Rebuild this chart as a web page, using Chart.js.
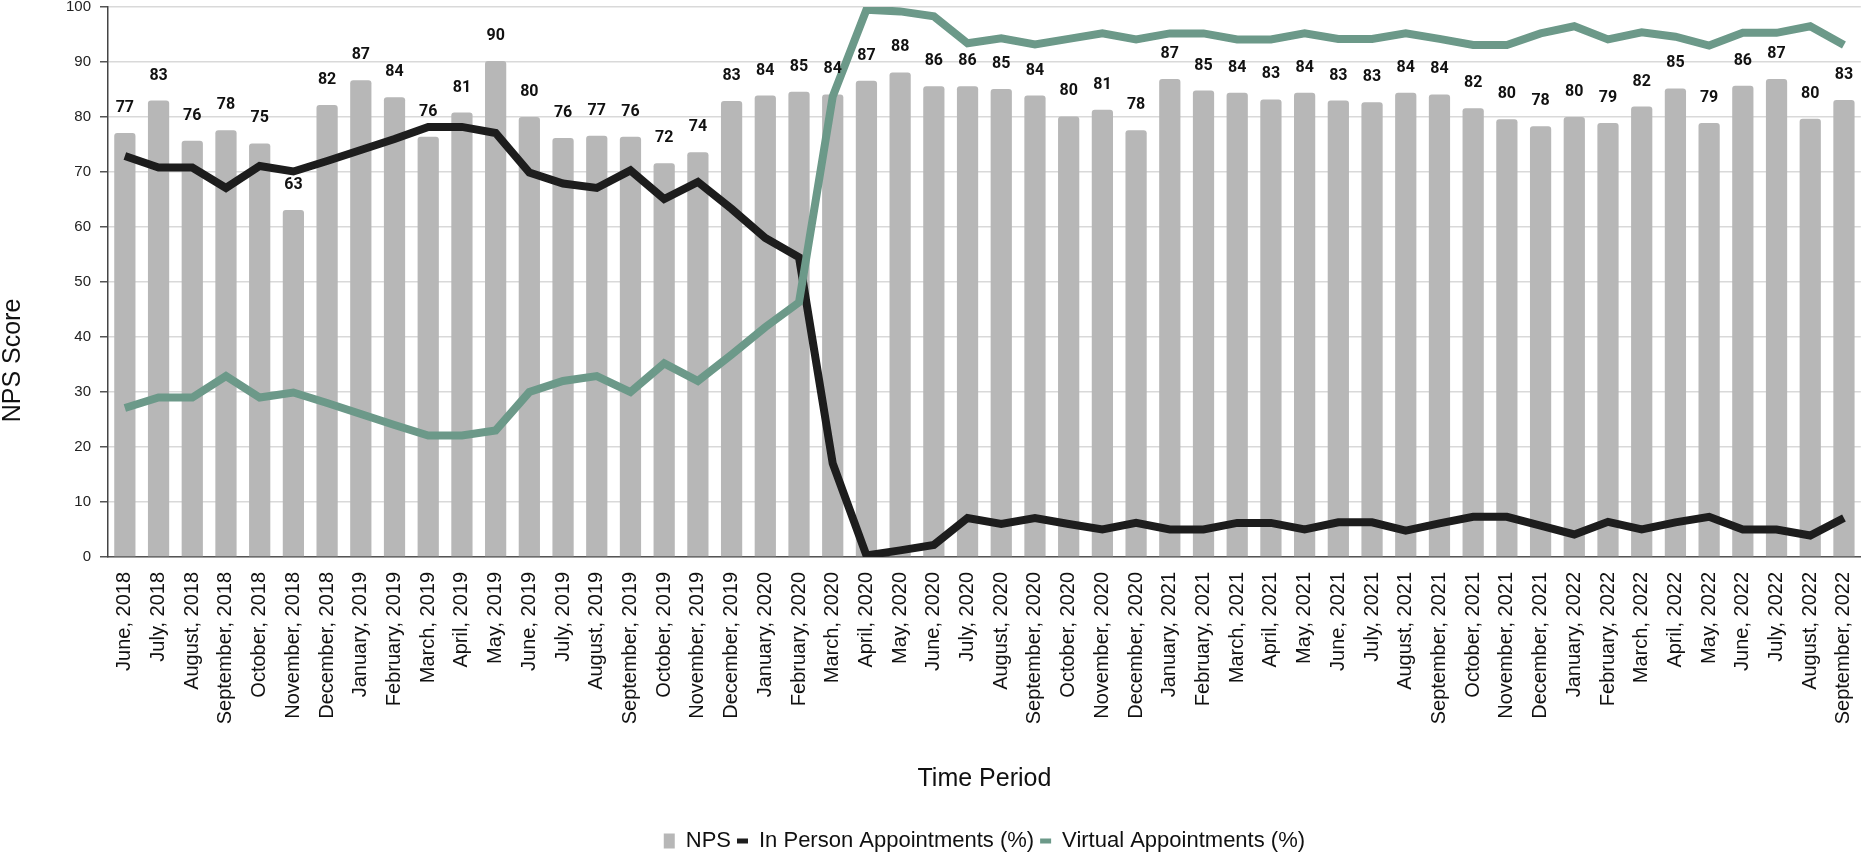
<!DOCTYPE html>
<html>
<head>
<meta charset="utf-8">
<script src="https://cdn.jsdelivr.net/npm/chart.js@4.4.1/dist/chart.umd.min.js"></script>
<style>
  html, body { margin: 0; padding: 0; background: #fff; }
  canvas { display: block; }
</style>
</head>
<body>
<canvas id="npsChart" width="1875" height="862"></canvas>
<script>
const months = [
  "June, 2018", "July, 2018", "August, 2018", "September, 2018", "October, 2018",
  "November, 2018", "December, 2018", "January, 2019", "February, 2019", "March, 2019",
  "April, 2019", "May, 2019", "June, 2019", "July, 2019", "August, 2019",
  "September, 2019", "October, 2019", "November, 2019", "December, 2019", "January, 2020",
  "February, 2020", "March, 2020", "April, 2020", "May, 2020", "June, 2020",
  "July, 2020", "August, 2020", "September, 2020", "October, 2020", "November, 2020",
  "December, 2020", "January, 2021", "February, 2021", "March, 2021", "April, 2021",
  "May, 2021", "June, 2021", "July, 2021", "August, 2021", "September, 2021",
  "October, 2021", "November, 2021", "December, 2021", "January, 2022", "February, 2022",
  "March, 2022", "April, 2022", "May, 2022", "June, 2022", "July, 2022",
  "August, 2022", "September, 2022",
];

// NPS score per month (bar labels show the rounded value)
const npsScores = [
  77.1, 83.0, 75.7, 77.6, 75.2, 63.1, 82.2, 86.7, 83.6, 76.4,
  80.8, 90.2, 80.0, 76.2, 76.6, 76.4, 71.6, 73.6, 82.9, 83.9,
  84.6, 84.1, 86.6, 88.1, 85.6, 85.6, 85.1, 83.9, 80.1, 81.3,
  77.6, 86.9, 84.8, 84.4, 83.2, 84.4, 83.0, 82.7, 84.4, 84.1,
  81.6, 79.6, 78.3, 80.0, 78.9, 81.9, 85.2, 78.9, 85.7, 86.9,
  79.7, 83.1,
];

// share of appointments (%)
const inPerson = [
  72.9, 70.8, 70.8, 67.1, 71.1, 70.1, 72.0, 74.0, 76.0, 78.2,
  78.2, 77.1, 69.9, 67.9, 67.1, 70.3, 65.1, 68.2, 63.3, 58.0,
  54.5, 17.0, 0.3, 1.2, 2.2, 7.1, 6.0, 7.1, 6.0, 5.0,
  6.2, 5.0, 5.0, 6.2, 6.2, 5.0, 6.3, 6.3, 4.8, 6.1,
  7.3, 7.3, 5.7, 4.1, 6.4, 5.0, 6.3, 7.3, 5.0, 5.0,
  3.9, 7.1,
];

const virtual = [
  27.1, 29.0, 29.0, 32.9, 29.0, 29.9, 28.0, 26.0, 24.0, 22.1,
  22.1, 23.0, 30.0, 32.0, 32.9, 30.0, 35.2, 32.0, 36.8, 41.8,
  46.3, 83.7, 99.5, 99.2, 98.3, 93.4, 94.3, 93.2, 94.2, 95.2,
  94.1, 95.2, 95.2, 94.1, 94.1, 95.2, 94.2, 94.2, 95.2, 94.2,
  93.1, 93.1, 95.2, 96.5, 94.1, 95.4, 94.6, 93.0, 95.3, 95.3,
  96.5, 93.1,
];

const yTicks = [0, 10, 20, 30, 40, 50, 60, 70, 80, 90, 100];

const barColor = "#b7b7b7";
const inPersonColor = "#1d1d1d";
const virtualColor = "#6c9989";
const sans = "'Liberation Sans', Arial, sans-serif";

// rounded score above every bar
const barLabels = {
  id: "barLabels",
  afterDatasetsDraw(chart) {
    const ctx = chart.ctx;
    const meta = chart.getDatasetMeta(0);
    ctx.save();
    ctx.font = "bold 16px Roboto";
    ctx.fillStyle = "#111";
    ctx.textAlign = "center";
    ctx.textBaseline = "middle";
    meta.data.forEach((bar, i) => {
      ctx.fillText(String(Math.round(npsScores[i])), bar.x, bar.y - 25);
    });
    ctx.restore();
  },
};

// y title sits centred over plot + month labels, not just the plot
const yTitle = {
  id: "yTitle",
  afterDraw(chart) {
    const ctx = chart.ctx;
    const area = chart.chartArea;
    const cy = (area.top + chart.scales.x.top + 157) / 2;
    ctx.save();
    ctx.translate(13, cy);
    ctx.rotate(-Math.PI / 2);
    ctx.font = "25px " + sans;
    ctx.fillStyle = "#111";
    ctx.textAlign = "center";
    ctx.textBaseline = "middle";
    ctx.fillText("NPS Score", 0, 0);
    ctx.restore();
  },
};

const ctx = document.getElementById("npsChart").getContext("2d");
new Chart(ctx, {
  type: "bar",
  data: {
    labels: months,
    datasets: [
      {
        label: "NPS",
        data: npsScores,
        backgroundColor: barColor,
        borderRadius: { topLeft: 3, topRight: 3 },
        borderSkipped: "bottom",
        categoryPercentage: 1,
        barPercentage: 0.63,
        order: 2,
      },
      {
        type: "line",
        label: "In Person Appointments (%)",
        data: inPerson,
        borderColor: inPersonColor,
        backgroundColor: inPersonColor,
        borderWidth: 8,
        pointRadius: 0,
        tension: 0,
        order: 1,
      },
      {
        type: "line",
        label: "Virtual Appointments (%)",
        data: virtual,
        borderColor: virtualColor,
        backgroundColor: virtualColor,
        borderWidth: 8,
        pointRadius: 0,
        tension: 0,
        order: 0,
      },
    ],
  },
  options: {
    responsive: false,
    devicePixelRatio: 1,
    animation: false,
    layout: { padding: { top: 7, right: 5, left: 0, bottom: 0 } },
    plugins: {
      tooltip: { enabled: false },
      legend: {
        position: "bottom",
        fullSize: false,
        labels: {
          usePointStyle: true,
          pointStyleWidth: 11,
          boxHeight: 15,
          padding: 6,
          color: "#111",
          font: { family: sans, size: 22 },
          generateLabels: (chart) =>
            chart.data.datasets.map((ds, i) => ({
              text: ds.label,
              fillStyle: ds.backgroundColor,
              strokeStyle: i === 0 ? ds.backgroundColor : ds.borderColor,
              lineWidth: i === 0 ? 0 : 5,
              pointStyle: i === 0 ? "rect" : "line",
              fontColor: "#111",
              hidden: false,
              datasetIndex: i,
            })),
        },
      },
    },
    scales: {
      x: {
        grid: { display: false },
        border: { display: true, color: "#555", width: 1.5 },
        ticks: {
          autoSkip: false,
          minRotation: 90,
          maxRotation: 90,
          padding: 7,
          color: "#111",
          font: { family: sans, size: 20 },
        },
        title: {
          display: true,
          text: "Time Period",
          color: "#111",
          font: { family: sans, size: 25 },
          padding: { top: 0, bottom: 30 },
        },
        afterFit: (scale) => {
          scale.height = 862 - 561 - 34;
        },
      },
      y: {
        min: 0,
        max: 100,
        afterBuildTicks: (scale) => {
          scale.ticks = yTicks.map((v) => ({ value: v }));
        },
        grid: {
          color: "#d9d9d9",
          lineWidth: 1.5,
          tickColor: "#555",
          tickLength: 8,
        },
        border: { display: true, color: "#444", width: 1.5 },
        ticks: {
          padding: 9,
          color: "#222",
          font: { family: sans, size: 15 },
        },
        afterFit: (scale) => {
          scale.width = 108;
          // the "100" label may hang above the plot, as in the reference
          scale.paddingTop = 0;
          scale.paddingBottom = 0;
        },
      },
    },
  },
  plugins: [barLabels, yTitle],
});
</script>
</body>
</html>
